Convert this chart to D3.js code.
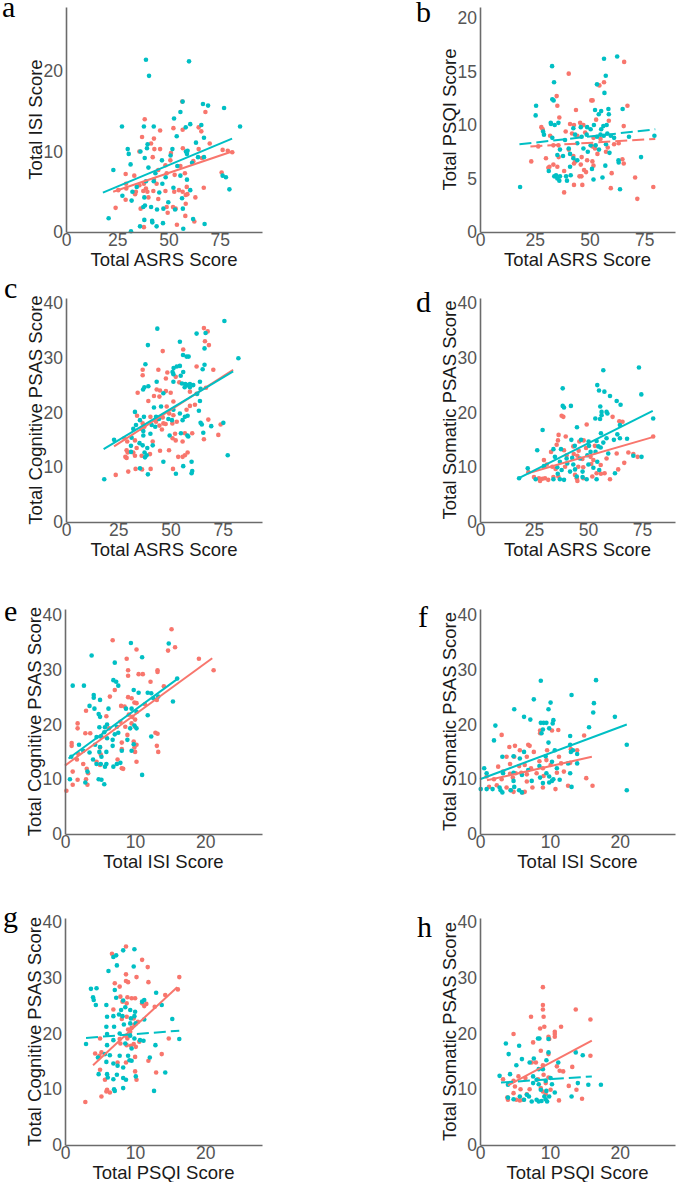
<!DOCTYPE html>
<html>
<head>
<meta charset="utf-8">
<script src="https://cdn.jsdelivr.net/npm/d3@7"></script>
<style>
  body { margin: 0; background: #fff; }
  svg { display: block; }
</style>
</head>
<body>
<svg id="chart" width="679" height="1182"></svg>
<script>
// scores, [x, y] per participant
const aTeal = [[39,21.4],[60,21.2],[40.5,19.4],[56.9,16.2],[66.8,15.9],[69.3,15.7],[77.1,15.4],[55.8,14.9],[52.7,14.1],[27.3,13.1],[38,13.1],[42.8,13.1],[60.6,13.4],[66,13.3],[84.9,13.1],[58.4,13],[54,11.9],[67.3,11.7],[63.4,11.1],[39.8,10.9],[30.1,10.3],[39.5,10.4],[30.6,9.7],[36.3,10],[51.9,10.3],[58.5,10],[59,9.7],[59.3,10.1],[51,9.5],[38.4,9.2],[64.4,9.3],[67.3,9.3],[46.8,8.9],[31.5,8.4],[61.5,8.6],[54.3,8.2],[23.1,7.7],[40.2,8],[43.6,7.3],[48.6,6.8],[55.8,7],[76.4,7],[78,6.8],[39,6.3],[42.8,6.3],[59,6.5],[34.5,5.6],[47,6],[52.4,5.5],[60.6,5.2],[79.7,5.3],[32.4,5],[45.5,4.9],[27.5,4.5],[38.2,4.3],[56.6,4.2],[32,3.9],[49.9,3.7],[38.5,3.3],[41.5,3.1],[37.7,3.1],[57,2.9],[44.4,2.8],[53.2,2.8],[47.5,2.9],[20.8,1.7],[42,1.4],[42.1,1.2],[38.2,1.5],[47.3,1.1],[44.2,0.7],[36.1,0.7],[57.2,0.4],[67.6,1],[31.7,0.1],[62,1.6]];
const aRed = [[56.7,16.2],[38.4,14],[68,14.9],[64.7,13],[37.1,11.8],[52.4,12.9],[56.9,12.7],[66,12.5],[45.9,12.6],[42.9,11.6],[41.5,11],[43.1,10.3],[45.9,10.3],[70.1,11],[81.1,9.9],[51.2,9.8],[57,10.4],[35.8,10],[42.3,9.3],[50.9,8.9],[62.1,8.8],[66.3,9.2],[64.7,10.3],[76.4,10.2],[78.9,10.1],[48.5,8.3],[55.8,8.2],[45,7.7],[29.1,7.2],[33.3,7],[49.1,7.3],[53,7.1],[58,7.3],[75.9,7.4],[42.9,6.5],[38,6],[44.2,6],[29.3,6],[39,5.4],[42.6,5.1],[35.8,5.8],[34.1,5],[37.7,5.1],[25.5,5.2],[29.4,5.4],[39.7,5],[48.5,5.1],[52.8,5],[56.9,5],[58.9,5.6],[55.1,5.2],[58.4,4.6],[59.2,4.7],[67.2,5.5],[33.7,4.7],[40.2,4.3],[45,4.1],[29.1,4],[63.1,4.3],[24.2,3],[36.4,2.9],[49.1,3.1],[52.2,3.1],[53.5,2.9],[58.4,3.5],[49.6,2.4],[58.2,2],[62.6,1.3],[54.1,0.9],[38,0.6]];

const bTeal = [[56.6,16.2],[62.6,16.4],[32.9,15.5],[33.8,14],[57.4,14.6],[53.4,13.8],[56.8,13],[33,12.4],[33.6,12.3],[25.6,11.8],[25.4,10.9],[52.5,11.4],[55.3,11.3],[58.6,11.5],[65.1,11.5],[58.8,11],[54.2,11],[32.3,10.2],[32.4,10.1],[34.1,10],[35.8,10.2],[42.6,9.7],[46,9.8],[48.9,9.8],[50.5,9.6],[52,10],[55.3,9.6],[56.3,9.9],[57.8,10],[28.8,9.4],[29.2,9.1],[43.4,9.1],[46.4,8.9],[48.7,9.1],[53.4,8.9],[55,9.1],[56.5,9],[58.1,9.2],[59.7,9],[61.2,8.8],[79.6,9],[68,8.9],[33,8.8],[38.8,8.6],[44.4,8.3],[50.5,8.1],[52.8,8.1],[57.5,8.2],[40.5,7.8],[47.2,7.8],[36.5,7.7],[35.3,7.2],[41.1,7.3],[49.2,7.5],[54.3,7.7],[59.1,7.4],[37.9,7.1],[42.6,6.9],[44.4,6.7],[73.5,7],[63.2,6.7],[63.3,6.5],[57.2,6.2],[41.1,6.1],[51.1,5.9],[31.4,5.7],[33.9,5.2],[36.5,5.2],[39.3,5.2],[41.4,5.3],[34.7,5.3],[35.3,5],[39.7,4.8],[36.2,4.8],[55.9,5.1],[51.8,4.9],[18.3,4.2],[63.9,4]];
const bRed = [[65.8,15.9],[40.5,14.8],[56.6,14],[54.5,13.7],[35,12.7],[50.8,12.3],[51.4,12.3],[35.3,11.8],[67.3,11.8],[43.8,11.4],[53,10.5],[58.8,10.4],[36.2,10.7],[45.7,10.2],[47.2,10],[41.1,10.1],[42.9,10],[65.6,9.9],[28,9.8],[28.6,9.6],[32,9],[39.1,9.4],[42,9.2],[48,9.3],[44.4,9],[51.8,8.8],[55,8.7],[61.2,8.2],[63.3,8.3],[58.3,7.9],[26.6,8],[33.5,8.1],[35.8,8.1],[51.4,8],[52.5,7.8],[57.5,7.5],[40.5,7.7],[30.1,6.9],[35.9,7],[42.6,7.1],[46.4,7],[53.6,7.3],[65,6.8],[23.4,6.6],[43.5,6.6],[48.9,6.7],[51.3,6.6],[65.6,6.4],[31.7,6.1],[33.5,6.3],[35.3,6.1],[42.9,6.4],[46,6.3],[51.8,6.2],[31.2,6],[47.5,5.8],[48.4,5.6],[45.4,5.2],[46.3,5.2],[38.4,5.7],[60.1,5.5],[46.7,4.4],[59.7,4.1],[70.8,5.1],[42.9,4.4],[38.4,3.7],[71.8,3.1],[79.1,4.2]];

const cTeal = [[75.8,36.7],[43.7,35.3],[54.5,32.9],[39.2,32.3],[66.3,31.7],[66.8,34.5],[62.5,34.4],[82.5,29.9],[56,30.5],[57.7,30.2],[58.7,30.2],[53,28.4],[54.5,28.5],[51.5,28.1],[38,28.8],[65.4,27.9],[66.3,28.7],[56.1,27.4],[51,27.4],[51.4,27],[54.9,26.7],[43.4,25.6],[51.4,25.6],[55.5,25.3],[57.1,25.2],[58,25],[59.3,25.2],[60.9,25],[56.8,24.6],[59.3,24.6],[64.1,25.6],[64.4,24.3],[39.4,24.8],[37.5,24.6],[36.9,24.2],[46.6,23.5],[62.8,23.4],[64.1,22.1],[42.1,20.9],[45.5,21.1],[33,20.1],[54.5,19.8],[56.9,19.2],[58.2,19.4],[63.6,20.3],[37.3,19.2],[43.1,19.2],[44.5,18.8],[35.4,18.6],[49,18.8],[50.7,18.6],[55.8,18.6],[51.4,20.5],[33.5,17.7],[41,17.7],[42.7,17.4],[64.4,18.1],[65,17.8],[69.5,17.5],[75.3,18.1],[32.2,17],[37,16.6],[31.4,15.4],[37,15.8],[40.4,16.1],[58.1,15.8],[58.5,15.6],[49.6,15.8],[55,16.2],[65.7,16.3],[23,15],[35.2,14.4],[31.1,13.9],[36.7,14],[41.5,14],[38.9,13.5],[31.1,12.8],[37.6,12.7],[38.6,12.2],[37.8,11.8],[46.6,11],[60.1,11],[77.4,12.2],[35.4,9.8],[56.1,10.2],[60.1,8.9],[60.4,9.3],[39.2,8.7],[52.6,8.8],[18.3,7.8]];
const cRed = [[66,35.4],[67.8,34.8],[66.5,33],[68.4,32.3],[46.3,31.2],[56.1,31.5],[62.5,28.4],[36.7,27.8],[36.7,26.8],[44.2,27.8],[48.5,27.3],[52.5,26.5],[47.8,26.2],[70.5,27.8],[54.2,25.5],[43.4,24.2],[45,24],[47.8,23.9],[50.1,23.6],[42.1,23],[44.7,22.9],[34.3,23.6],[59.3,23.8],[62.5,23.4],[67,24.5],[39.4,22.1],[51.4,22],[48.2,21.1],[57.7,20.5],[61.7,21.4],[59.3,21.2],[49.4,19.8],[51.4,19.5],[46.3,19.1],[40.4,19.2],[43.1,18.3],[46.6,18],[34,19.4],[36.7,18],[37.5,17.4],[44.7,17.6],[47.7,17.9],[50.9,18],[53,18.3],[36.2,17],[45.9,16.9],[68.1,18.7],[74,17.8],[60.4,16.2],[72.9,15.9],[52.2,16.1],[56.9,16.2],[55.8,14.7],[51,15.3],[52.5,14.9],[27.9,15.3],[29.3,14.7],[33,14.9],[66,15.1],[29,13.1],[33.8,13.5],[41.5,14.7],[29.5,12.7],[32.2,12.7],[45,13],[49.3,13.1],[58.2,12.7],[28.4,11.9],[29,11.7],[33,12.1],[36.2,12.1],[40.2,12.4],[53.7,11.9],[55.8,11.9],[56.9,12.2],[33.3,9.7],[36.4,9.6],[40.5,9.7],[51.2,9.7],[29.8,9.2],[23.8,8.6]];

const dTeal = [[73.6,28.2],[57.1,27.7],[74.7,23.3],[38.3,24.4],[54.3,25],[55.1,24],[57.6,23.8],[60.2,23],[38.3,21.2],[38.9,20.9],[42.1,21.2],[63.3,22.1],[65.1,21.4],[55.7,21.1],[56.3,20.1],[58.6,20.1],[56.3,19.5],[59,19.8],[55.6,18.8],[80.2,18.9],[53.4,18.9],[64.8,17.7],[63.6,16],[29,16.8],[44.9,17.3],[56,16.2],[58.6,15.3],[62,15],[64.8,15.3],[68.1,15.2],[54,14.8],[42.3,15],[46.8,15],[50.3,14.7],[57.1,14.5],[43.9,13.9],[50.5,13.9],[54.8,13.8],[26.5,13.1],[34,13.3],[37.5,13.3],[51.2,12.8],[53.5,12.8],[55.9,13.6],[59.4,12.5],[49.7,12.2],[34.7,11.9],[40.1,11.6],[42.7,11.7],[46.3,11.6],[54.3,11],[71,12.1],[74.8,11.9],[37,11],[40.4,10.7],[29.6,10.2],[43.2,10.5],[50.2,10.5],[52.5,9.9],[22.1,9.8],[35.8,10],[37.8,9.5],[44,9.6],[41.7,9.2],[47.5,9.2],[55.2,9.5],[62.5,8.9],[36,8.8],[44.8,8.3],[47.5,8.2],[25.8,7.8],[34,7.8],[37,7.8],[38.9,7.7],[49.4,7.8],[54,7.8],[18.1,8]];
const dRed = [[37.8,19.4],[38.6,19.2],[61.4,19.2],[66,18.3],[64.5,18.4],[49.4,17.8],[36.4,15.9],[39.7,15.6],[46,14.7],[48,14.9],[36.1,14.9],[35.5,14.1],[32.9,12.8],[38.9,13.1],[43.2,13.8],[45.7,13],[49.1,13.5],[53.2,13.9],[63.3,12.5],[68.7,12.7],[71,12.4],[73,11.9],[80.2,15.6],[40.1,12.2],[43.4,12.4],[45.1,12.1],[47.4,11.5],[51.2,11.9],[52.5,11.3],[58.6,11.6],[66.8,10.8],[29.6,11.3],[30.9,10.5],[33.5,10.1],[35,9.7],[39.4,10.1],[45.5,10.1],[47.8,10],[51.5,10.6],[55.9,10.4],[64,9.6],[22.4,9.1],[25,8.2],[27.3,8],[28.9,7.9],[30.1,8],[31.6,7.7],[34,8.2],[36.3,8.3],[44,8.6],[44.8,8],[45.1,7.5],[47.8,8],[52,8.3],[54,8.9],[56,8.8],[57.7,8.9],[60.2,7.8],[27.8,7.5]];

const eTeal = [[9.4,34.9],[14.8,34.8],[3.8,32.6],[11,32.3],[7.1,31.3],[1.1,27.1],[2.7,27.1],[6.9,28.1],[7.3,27.8],[7.6,27.1],[16,28.4],[4.1,25.4],[4.1,24.9],[5,24.5],[11.8,25.8],[12.3,25.7],[12.6,24.8],[10.5,25.8],[9.8,26.3],[13.3,25.1],[15.4,24.2],[3.5,23.4],[4.2,22.9],[4.8,21.9],[5,21.4],[6.2,22.9],[8.7,22.9],[9.5,22.9],[10.2,22.3],[11.8,21.7],[2,16.3],[4.9,19.5],[5.7,19.5],[6,20],[7.4,19.6],[9.3,19.3],[9.9,19.8],[10.2,19.3],[12.3,17.8],[5.6,18.6],[7.1,18.2],[7.6,18.5],[4.5,17.7],[5.1,17.8],[6,17.5],[6.8,17.2],[8.9,17.2],[4.3,16.3],[5,15.9],[6.8,16.1],[9.8,16.4],[2.6,15.2],[3.5,14.9],[4.9,15],[5.9,15],[8.1,15.2],[9.5,15.2],[0.9,14.1],[5.2,14.1],[4,13.6],[4.5,12.8],[5.1,12.8],[5.9,12.8],[7.4,12.8],[7.9,13],[5.7,12.3],[6.9,12.3],[3.2,11.4],[11,10.8],[0.7,10],[4.8,10],[5.2,9.9],[2.9,9.4],[5.6,9.1]];
const eRed = [[15.2,37.4],[6.8,35.4],[14.7,33.5],[15.7,34.1],[10.2,33.7],[8.8,32],[19.1,32],[21.2,29.9],[10.5,29.2],[11.1,29.2],[13.2,29.6],[13.2,29.9],[9,29.9],[9,28.9],[12.2,27.8],[14.1,27],[7.1,26.3],[6.4,25.1],[9,25],[9.5,24.8],[9.9,24],[10.2,23.9],[8,23.4],[8.5,23.3],[11.4,23.7],[3,22.5],[13.1,24.5],[5.9,21.5],[9.1,21.8],[9.6,21.4],[10,20.9],[9.5,20.2],[7.9,20.5],[1.8,20.2],[1.8,19.3],[8.6,19.6],[10,19.6],[6.3,19.3],[2.9,18.4],[3.6,18.4],[5.2,17.8],[8.9,18.1],[12.9,18.5],[13.2,18.3],[8.1,16.7],[9.8,16.9],[10.2,16.3],[13.1,16.1],[0.95,16.6],[0.95,16.1],[5,15.8],[8.1,15.5],[9.9,15.8],[10,15],[13.3,15],[1.9,14.6],[5.1,14.5],[1.7,13.6],[2.6,12.8],[3.1,11.9],[3.3,11.1],[4.5,13.2],[5,12.6],[7.5,13.6],[8.1,12],[8.3,11.9],[10.2,13.2],[1.1,11.4],[1.8,9.9],[3,10],[3.2,9],[1.1,9],[0.2,7.9]];

const fTeal = [[8.7,28],[16.6,28.1],[13.1,25.4],[7.7,24.6],[4.9,22.8],[10.1,24],[9.8,22.8],[16.2,22.2],[16.3,23.9],[6.3,21.4],[7.2,20.9],[19.3,21.4],[10.5,20.8],[10.4,20.2],[9.1,20.3],[9.5,20.3],[8.7,20.3],[2.2,19.8],[9,19.1],[9.9,19.3],[15.6,19.5],[2,17.1],[21,16.3],[12.9,17.9],[8.8,18.4],[9.8,16.7],[12.9,16.3],[13.3,15.3],[10.7,15.3],[13,15],[13.9,14.6],[6.3,15],[4.8,14.2],[5.7,13.8],[3.2,14.1],[9.4,14.2],[12.6,12.9],[13.9,12.9],[8.5,12.4],[10.3,13.2],[11,12],[6.9,11.7],[0.6,12],[0.95,11.1],[3.3,11.1],[4.8,11.2],[6,10.8],[8.6,10.3],[9.5,11.1],[9.9,10.5],[10.5,10],[11.4,9.9],[12.9,11.1],[4.8,9.7],[7.4,9.7],[9.9,9.4],[10.3,9.7],[9,9.3],[0.1,8.2],[0.95,8.2],[1.8,8.2],[2.8,8.5],[2.95,8],[3.2,7.6],[4.4,8],[5.6,8],[6,7.6],[13.1,8.6],[21,8],[4.9,8.6]];
const fRed = [[3.1,18.1],[8.6,18.9],[8.6,18.4],[10.3,18.9],[11.2,19],[14.9,18],[6.9,16.3],[7.1,16.1],[4.2,15.9],[5,16.1],[5.7,15.3],[7.7,15],[9.6,15.3],[11.3,14.1],[13,15.5],[13.9,15.3],[3.8,14.1],[4.9,14.1],[6.7,14.1],[8.5,13.3],[9.5,13.5],[11.6,12.9],[12.9,13],[2.6,12.3],[4.3,12.8],[5.6,12.4],[6.4,12.6],[7.3,12],[9,12],[10.1,12.6],[12,11.4],[3.3,11.4],[4.3,11],[5.1,11.1],[5.9,11.2],[6.7,10.9],[8.1,11.1],[9.1,10.6],[11,11.2],[15.2,10.2],[0.95,10.5],[2,10],[3.1,10],[4.7,10.3],[6.7,9.6],[1.3,8.6],[2.4,8.9],[3.8,8.5],[4.4,8],[4.8,7.7],[6.1,7.6],[6.4,7.7],[7.5,8.5],[9,8.5],[10.8,8.2],[16.1,8.8],[12.6,8.8]];

const gTeal = [[8.3,34.9],[9.9,35.1],[6.9,33.7],[7.3,34],[6.2,31.2],[7.4,32.2],[9.8,32],[3.7,28],[4.5,28.1],[4,26.5],[4.1,26],[7.1,27.8],[7.3,26.4],[8.3,25.9],[11,25.7],[11.3,26],[13,27.3],[13.8,25.1],[4.4,25.1],[5.9,25.1],[8,24.2],[8.6,24.7],[9.3,24.2],[10,23.9],[6.9,23.1],[7.7,23.4],[8.2,23.1],[9.4,22.7],[9.9,23.1],[6,23],[15.3,22.6],[7,21.2],[8.4,21.6],[9.3,21.8],[10.1,21.8],[11.3,22.5],[5.9,21.2],[3,18.1],[6,19.9],[7.8,20],[9.3,19.6],[9.9,19.1],[10.7,18.8],[12.9,17.9],[16.3,19],[6.9,18.8],[8.6,18.2],[6,17.9],[11.2,18.7],[9.5,17.3],[5.7,16.3],[6.4,16.1],[7.8,16],[9,16],[9.2,15.2],[9.5,15.1],[12.1,15.7],[4.7,15.7],[5.9,14.9],[6.9,14.6],[7.5,14.2],[8.3,13.9],[14.3,13],[4.8,12.7],[6,12.7],[6.1,12.1],[6.9,11.8],[7.4,12.6],[8.3,12],[8.7,11.7],[10.1,12.3],[7,10],[7.1,9.7],[12.7,9.7],[8.3,10.2]];
const gRed = [[8.7,35.6],[6.7,34.3],[11,33.2],[11.8,31.9],[8.7,30.6],[10.2,30.1],[7.1,29],[8.7,29.4],[9,29.2],[11.9,29.2],[16.3,30.1],[16.1,27.9],[14.3,26.9],[7.8,28.4],[7.9,26.6],[8.9,26.5],[9.5,26.3],[10,26.3],[8.2,25.7],[8.8,25.4],[11,25.4],[11.6,25.3],[11.3,24.9],[12.8,24.8],[6.9,24.3],[8.8,23],[9.8,22.7],[8.1,22.6],[10.4,22.1],[9.9,21.6],[5,19.1],[9.5,21],[9,20.7],[9.3,20.3],[8.7,19.6],[7.8,19],[8.9,19.1],[7.9,18.2],[9.8,18.1],[8.8,17.9],[9.4,17.8],[10.1,17.6],[10.6,18.5],[14.8,19.1],[5.2,16.6],[4.3,16.4],[4.9,16],[8.7,14.8],[10,15.8],[11.9,15.1],[13.8,16.3],[5,13.5],[5.7,11.7],[7.5,14.8],[10,13.2],[10.2,11.7],[13,13],[5.2,8.7],[6,9.9],[6.4,9.4],[5.9,9.6],[2.9,7.7]];

const hTeal = [[8.3,19.1],[8.5,19.1],[9.8,19],[3.7,18.2],[5.6,17.8],[4.1,16.3],[9.8,16.6],[13.7,16.6],[14.7,16.1],[6,15.4],[7.7,15.5],[7.1,14.8],[9.5,15.2],[11.2,14.8],[5.2,14.3],[8.4,13.6],[9,13.6],[2.8,12.4],[4.3,12.7],[7.6,12.3],[10.1,12],[14,11.1],[15.5,10.8],[17.3,10.8],[8.1,11.7],[9.4,11.5],[7.6,11.1],[8.4,10.9],[10.3,10.9],[4,10.8],[8.7,9.9],[9.5,9.7],[10.7,9.4],[6.7,9],[7,8.7],[9.2,8.7],[9.9,8.7],[4,8.5],[4.8,8.2],[5.7,8.7],[6.3,8.1],[7.4,7.8],[8.1,8.1],[8.4,7.8],[8.8,7.9],[9.4,8.2],[13.1,8.7],[9.6,7.8]];
const hRed = [[9,28.3],[9,25.1],[9,24.3],[13.7,24.3],[7.3,23],[9.1,23],[8.6,20.9],[9.2,21.2],[11.6,21.2],[4.8,19.9],[10.7,20.3],[10.7,19.9],[10.7,19.4],[9.8,19.4],[9.9,19],[15.8,22.5],[7.6,18.4],[8.7,16.9],[15.8,16],[9.8,16.3],[7.4,14.8],[8,14.8],[9,14.3],[11,14.1],[13.2,14],[11.4,13.3],[11.9,13.2],[9.1,12.6],[5.5,12.3],[6.5,12],[8.3,11.8],[9.8,12.1],[3.3,11.8],[4.8,11.5],[9.4,11.1],[12.7,10.6],[5,10.5],[5.8,10],[7.1,10],[8.7,10.2],[10.1,9.9],[13.8,9.9],[9,9.6],[6.7,9.1],[4.8,9.3],[3.9,8.5],[4,8.1],[5.2,8.1],[5.7,8],[6.2,8.1],[9.4,9.1],[11.3,8],[14.6,8.3]];

// fitted lines: [x0, y0, x1, y1]
const aFit = { red: [23, 5.0, 81, 10.0], teal: [18, 4.9, 81, 11.6] };
const bFit = { red: [23, 8.0, 80, 8.7], teal: [18, 8.2, 80, 9.6] };
const cFit = { red: [23, 13.8, 80, 27.8], teal: [18, 13.3, 80, 27.5] };
const dFit = { red: [23, 9.0, 80, 15.5], teal: [18, 8.0, 80, 20.3] };
const eFit = { red: [0, 12.5, 21, 32.1], teal: [0.5, 13.8, 16, 28.3] };
const fFit = { red: [1, 9.8, 16, 14.1], teal: [0, 10.0, 21, 20.0] };
const gFit = { red: [4, 14.3, 16, 28.3], teal: [3, 19.2, 16.3, 20.5] };
const hFit = { red: [4, 10.7, 16, 18.7], teal: [3, 11.2, 16, 12.3] };

const asrsTicks = [0, 25, 50, 75];
const scoreTicks = [0, 10, 20];
const isiYTicks = [0, 10, 20];
const psqiYTicks = [0, 5, 10, 15, 20];
const psasTicks = [0, 10, 20, 30, 40];

const RED = '#F8766D', TEAL = '#00BFC4';
const SANS = 'Liberation Sans, Arial, sans-serif';

const panels = [
  { letter: 'a', lx: 2, ly: 17, red: aRed, teal: aTeal, fit: aFit, dashed: [], xTicks: asrsTicks, yTicks: isiYTicks,
    x: [66, 262], y: [232, 7], xMax: 95.6, yMax: 27.95, xTitle: 'Total ASRS Score', yTitle: 'Total ISI Score' },
  { letter: 'b', lx: 416, ly: 22, red: bRed, teal: bTeal, fit: bFit, dashed: ['red', 'teal'], xTicks: asrsTicks, yTicks: psqiYTicks,
    x: [480, 675], y: [232, 7], xMax: 89, yMax: 21.03, xTitle: 'Total ASRS Score', yTitle: 'Total PSQI Score' },
  { letter: 'c', lx: 4, ly: 298, red: cRed, teal: cTeal, fit: cFit, dashed: [], xTicks: asrsTicks, yTicks: psasTicks,
    x: [66, 262], y: [522, 298], xMax: 93.8, yMax: 40.9, xTitle: 'Total ASRS Score', yTitle: 'Total Cognitive PSAS Score' },
  { letter: 'd', lx: 416, ly: 312, red: dRed, teal: dTeal, fit: dFit, dashed: [], xTicks: asrsTicks, yTicks: psasTicks,
    x: [480, 675], y: [522, 298], xMax: 90.3, yMax: 40.9, xTitle: 'Total ASRS Score', yTitle: 'Total Somatic PSAS Score' },
  { letter: 'e', lx: 4, ly: 621, red: eRed, teal: eTeal, fit: eFit, dashed: [], xTicks: scoreTicks, yTicks: psasTicks,
    x: [65, 262], y: [834, 609], xMax: 28.1, yMax: 41.1, xTitle: 'Total ISI Score', yTitle: 'Total Cognitive PSAS Score' },
  { letter: 'f', lx: 418, ly: 627, red: fRed, teal: fTeal, fit: fFit, dashed: [], xTicks: scoreTicks, yTicks: psasTicks,
    x: [480, 675], y: [834, 609], xMax: 27.9, yMax: 41.1, xTitle: 'Total ISI Score', yTitle: 'Total Somatic PSAS Score' },
  { letter: 'g', lx: 3, ly: 927, red: gRed, teal: gTeal, fit: gFit, dashed: ['teal'], xTicks: scoreTicks, yTicks: psasTicks,
    x: [65, 262], y: [1145, 918], xMax: 28.1, yMax: 40.7, xTitle: 'Total PSQI Score', yTitle: 'Total Cognitive PSAS Score' },
  { letter: 'h', lx: 417, ly: 937, red: hRed, teal: hTeal, fit: hFit, dashed: ['teal'], xTicks: scoreTicks, yTicks: psasTicks,
    x: [480, 675], y: [1145, 918], xMax: 27.9, yMax: 40.7, xTitle: 'Total PSQI Score', yTitle: 'Total Somatic PSAS Score' }
];

const svg = d3.select('#chart');
svg.append('rect').attr('width', 679).attr('height', 1182).attr('fill', '#fff');

panels.forEach(function(p) {
  const x = d3.scaleLinear().domain([0, p.xMax]).range(p.x);
  const y = d3.scaleLinear().domain([0, p.yMax]).range(p.y);
  const g = svg.append('g');

  // points, red first then teal on top
  ;[['red', p.red, RED], ['teal', p.teal, TEAL]].forEach(function(s) {
    g.selectAll('circle.' + s[0])
      .data(s[1])
      .enter()
      .append('circle')
      .attr('class', s[0])
      .attr('cx', d => x(d[0]))
      .attr('cy', d => y(d[1]))
      .attr('r', 2.3)
      .attr('fill', s[2])
  })

  // regression lines
  ;[['red', RED], ['teal', TEAL]].forEach(function(s) {
    const f = p.fit[s[0]]
    g.append('line')
      .attr('x1', x(f[0])).attr('y1', y(f[1]))
      .attr('x2', x(f[2])).attr('y2', y(f[3]))
      .attr('stroke', s[1])
      .attr('stroke-width', 2)
      .attr('stroke-dasharray', p.dashed.includes(s[0]) ? '12,5' : null)
  })

  // axes
  const xAxis = g.append('g')
    .attr('transform', 'translate(0,' + p.y[0] + ')')
    .call(d3.axisBottom(x).tickValues(p.xTicks).tickSize(0).tickPadding(2))
  const yAxis = g.append('g')
    .attr('transform', 'translate(' + p.x[0] + ',0)')
    .call(d3.axisLeft(y).tickValues(p.yTicks).tickSize(0).tickPadding(3))
  ;[xAxis, yAxis].forEach(function(a) {
    a.select('.domain').attr('stroke', '#6b6b6b').attr('stroke-width', 1.6)
    a.selectAll('text')
      .attr('fill', '#555')
      .style('font-family', SANS)
      .style('font-size', '17.5px')
  })

  // titles
  g.append('text')
    .attr('x', (p.x[0] + p.x[1]) / 2)
    .attr('y', p.y[0] + 34)
    .attr('text-anchor', 'middle')
    .style('font-family', SANS)
    .style('font-size', '18.5px')
    .attr('fill', '#1a1a1a')
    .text(p.xTitle)
  g.append('text')
    .attr('transform', 'translate(' + (p.x[0] - 24) + ',' + (p.y[0] + p.y[1]) / 2 + ') rotate(-90)')
    .attr('text-anchor', 'middle')
    .style('font-family', SANS)
    .style('font-size', '18.5px')
    .attr('fill', '#1a1a1a')
    .text(p.yTitle)

  // panel letter
  svg.append('text')
    .attr('x', p.lx)
    .attr('y', p.ly)
    .style('font-family', 'Liberation Serif, Times New Roman, serif')
    .style('font-size', '30px')
    .attr('fill', '#000')
    .text(p.letter)
})
</script>
</body>
</html>
